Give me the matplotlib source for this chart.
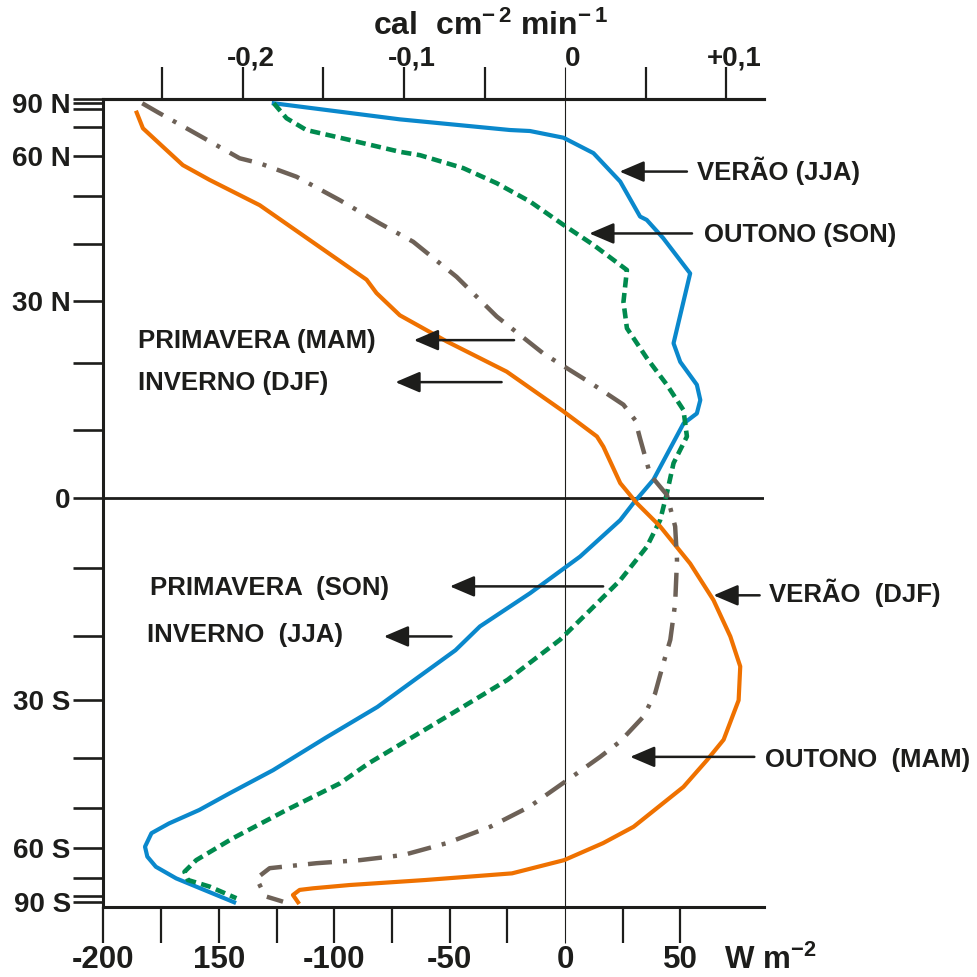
import numpy as np
import matplotlib
matplotlib.use("Agg")
import matplotlib.pyplot as plt
from matplotlib.transforms import ScaledTranslation

plt.rcParams['font.family'] = ['Liberation Sans', 'DejaVu Sans']
plt.rcParams['font.weight'] = 'bold'
plt.rcParams['mathtext.fontset'] = 'custom'
plt.rcParams['mathtext.rm'] = 'Liberation Sans:bold'
plt.rcParams['mathtext.it'] = 'Liberation Sans:bold'
plt.rcParams['mathtext.bf'] = 'Liberation Sans:bold'

# balanço de radiação (W m-2) por latitude
lat_jja = [90, 73.6, 68.8, 68.4, 65.9, 60.9, 53.3, 45.5, 44.8, 41.2, 34.7, 23.1, 20.2, 16.7, 14.4,
           12.4, 10.9, 2.7, -0.7, -3.1, -8.3, -13.6, -18.5, -22.1, -26.5, -31.1, -36.4, -42.3, -46.9,
           -50.5, -53.6, -56.0, -59.6, -62.5, -65.8, -70.2, -90]
flux_jja = [-126.2, -71.6, -23.9, -15.2, -0.7, 12.3, 23.9, 32.5, 35.4, 42.5, 54.2, 47.0, 49.9, 57.1, 58.6,
            57.1, 51.3, 38.3, 29.6, 23.9, 6.5, -15.2, -36.9, -47.5, -64.4, -81.3, -103.9, -126.5, -145.3,
            -158.5, -171.6, -179.2, -182.0, -181.0, -177.3, -168.5, -143.4]

lat_son = [90, 74.2, 68.8, 65.1, 61.3, 60.3, 56.7, 52.9, 48.7, 43.8, 39.9, 35.3, 29.8, 25.5, 20.8,
           16.7, 12.9, 9.0, 5.1, 0.7, -3.1, -6.9, -11.7, -16.1, -20.5, -26.7, -32.7, -41.0, -44.9,
           -50.5, -57.3, -63.6, -67.6, -70.9, -74.0, -81.9]
flux_son = [-126.2, -120.7, -112.1, -93.3, -71.6, -62.9, -44.1, -29.6, -15.2, -0.7, 12.3, 26.8, 25.3, 26.8, 35.4,
            44.1, 51.3, 52.8, 47.0, 44.1, 41.2, 35.4, 23.9, 10.8, -2.2, -24.9, -51.2, -85.1, -97.6,
            -120.7, -143.9, -159.8, -164.9, -163.4, -154.0, -142.4]

lat_djf = [77.5, 69.5, 62.9, 57.5, 53.7, 47.9, 33.6, 31.3, 27.6, 23.4, 18.7, 12.7, 9.0, 7.5, 2.2,
           -0.7, -4.0, -9.3, -14.6, -20.0, -24.6, -30.0, -36.7, -40.4, -45.6, -54.4, -58.6, -63.6,
           -68.2, -70.9, -73.2, -74.9, -75.8, -79.1, -90]
flux_djf = [-185.6, -182.9, -174.3, -165.6, -154.0, -132.3, -86.0, -81.7, -71.6, -51.3, -25.3, -0.7, 13.8, 16.6, 23.9,
            31.1, 41.2, 54.2, 64.3, 71.6, 75.9, 75.2, 68.7, 61.5, 51.3, 29.7, 16.5, -0.4,
            -23.0, -60.6, -93.3, -109.2, -115.0, -117.9, -115.7]

lat_mam = [90, 77.7, 68.8, 59.4, 58.0, 54.5, 49.0, 44.1, 40.5, 34.1, 27.4, 21.5, 16.7, 13.7, 11.4,
           8.7, 3.4, 0.5, -4.0, -8.8, -15.1, -20.5, -24.1, -28.9, -32.7, -37.0, -39.8, -42.9, -49.8,
           -54.4, -58.6, -62.0, -63.6, -64.6, -66.3, -70.2, -76.8, -80.4, -86.9]
flux_mam = [-183.2, -176.4, -162.7, -141.0, -132.3, -116.4, -97.6, -80.3, -65.8, -47.0, -29.6, -9.4, 12.3, 25.3, 30.4,
            32.5, 36.9, 44.1, 47.7, 48.5, 47.7, 45.6, 42.6, 39.0, 34.0, 23.9, 15.2, 5.2, -15.5,
            -32.4, -51.2, -70.0, -88.8, -107.7, -128.0, -133.7, -130.9, -129.4, -122.2]

lat_ticks = [90, 60, 30, 0, -30, -60, -90]
lat_labels = ['90 N', '60 N', '30 N', '0', '30 S', '60 S', '90 S']
w_ticks = [-200, -150, -100, -50, 0, 50]
w_labels = ['-200', '150', '-100', '-50', '0', '50']
cal_ticks = [-0.2, -0.1, 0, 0.1]
cal_labels = ['-0,2', '-0,1', '0', '+0,1']

season_labels = ['VERÃO (JJA)', 'OUTONO (SON)', 'PRIMAVERA (MAM)', 'INVERNO (DJF)',
                 'PRIMAVERA  (SON)', 'INVERNO  (JJA)', 'VERÃO  (DJF)', 'OUTONO  (MAM)']

# posição das setas: (ponta, cauda, texto) em (W m-2, latitude)
arrow_tip = [(23.6, 55.8), (10.5, 42.1), (-65.5, 23.6), (-73.5, 17.1),
             (-49.9, -12.6), (-78.5, -20.0), (64.3, -13.9), (28.2, -39.8)]
arrow_tail = [52.8, 55.0, -22.1, -27.5, 16.5, -49.2, 84.3, 82.0]
text_pos = [(57.1, 55.9), (60.0, 41.8), (-185.1, 23.5), (-185.2, 17.0),
            (-180.0, -12.8), (-181.2, -19.8), (88.2, -13.5), (86.8, -40.4)]

K = '#1d1d1b'
SOUTH = 1.0228  # o hemisfério sul está um pouco mais esticado na figura


def lat_fwd(lat):
    lat = np.asarray(lat, dtype=float)
    c = np.clip(lat, -90, 90)
    m = np.sin(np.radians(c)) + (lat - c) / 90.0
    return np.where(m < 0, m * SOUTH, m)


def lat_inv(m):
    m = np.asarray(m, dtype=float)
    m = np.where(m < 0, m / SOUTH, m)
    c = np.clip(m, -1, 1)
    return np.degrees(np.arcsin(c)) + (m - c) * 90.0


fig = plt.figure(figsize=(9.77, 9.77), dpi=100)
ax = fig.add_axes([0.1059, 0.0720, 0.6761, 0.8262])
ax.set_yscale('function', functions=(lat_fwd, lat_inv))
ax.set_xlim(-200, 86.2)
ax.set_ylim(-90.98, 90.87)

ax.axvline(0, color=K, lw=0.8)
ax.axhline(0, color=K, lw=2.0)

ax.plot(flux_jja, lat_jja, color='#0a88cc', lw=3.0, clip_on=False)
ax.plot(flux_son, lat_son, color='#008a4e', lw=3.3, dashes=(2.2, 1.2), clip_on=False)
ax.plot(flux_djf, lat_djf, color='#ef7100', lw=3.0, clip_on=False)
ax.plot(flux_mam, lat_mam, color='#6d6157', lw=3.2, dashes=(5.4, 2.5, 0.9, 2.5), clip_on=False)

for s in ['left', 'bottom', 'top']:
    ax.spines[s].set_linewidth(2.2)
    ax.spines[s].set_color(K)
ax.spines['right'].set_visible(False)

ax.set_yticks(lat_ticks, lat_labels)
ax.set_yticks([80, 70, 50, 40, 20, 10, -10, -20, -40, -50, -70, -80, 90.87], minor=True)
ax.set_xticks(w_ticks, w_labels)
ax.set_xticks([-175, -125, -75, -25, 25], minor=True)
ax.tick_params(axis='y', which='both', length=21.5, width=1.9, pad=2, labelsize=20, color=K, labelcolor=K)
ax.tick_params(axis='x', which='both', length=26, width=1.6, pad=1.5, labelsize=22.5, color=K, labelcolor=K)
for t in ax.xaxis.get_major_ticks():
    if t.get_loc() == 0:
        t.tick1line.set_markeredgewidth(0.8)

secax = ax.secondary_xaxis('top', functions=(lambda w: np.asarray(w) / 697.8,
                                             lambda c: np.asarray(c) * 697.8))
secax.set_xticks(cal_ticks, cal_labels)
secax.set_xticks([-0.25, -0.15, -0.05, 0.05], minor=True)
secax.tick_params(axis='x', which='both', length=23, width=1.6, pad=-3, labelsize=20, color=K, labelcolor=K)
secax.spines['top'].set_linewidth(2.2)
secax.spines['top'].set_color(K)
for t in secax.xaxis.get_major_ticks():
    if abs(t.get_loc()) < 1e-9:
        t.tick2line.set_markeredgewidth(0.8)
        t.tick1line.set_markeredgewidth(0.8)
# os rótulos de cima estão um pouco à direita dos traços na figura original
shift = ScaledTranslation(0.08, 0, fig.dpi_scale_trans)
for lab in secax.get_xticklabels():
    lab.set_transform(lab.get_transform() + shift)

for lab, tip, tail, tp in zip(season_labels, arrow_tip, arrow_tail, text_pos):
    ax.annotate('', xy=tip, xytext=(tail, tip[1]), annotation_clip=False,
                arrowprops=dict(arrowstyle='-|>,head_length=0.75,head_width=0.32',
                                mutation_scale=20, lw=1.8, color=K, shrinkA=0, shrinkB=0))
    ax.text(tp[0], tp[1], lab, ha='left', va='center', fontsize=18.5, color=K, clip_on=False)

ax.text(69.0, -0.066, r'W m$^{-2}$', transform=ax.get_xaxis_transform(),
        ha='left', va='center', fontsize=22.5, color=K)
fig.text(0.5015, 0.9642, r'cal  cm$^{-\,2}$ min$^{-\,1}$', ha='center', va='baseline',
         fontsize=23, color=K)

fig.savefig('out.png', dpi=100)
